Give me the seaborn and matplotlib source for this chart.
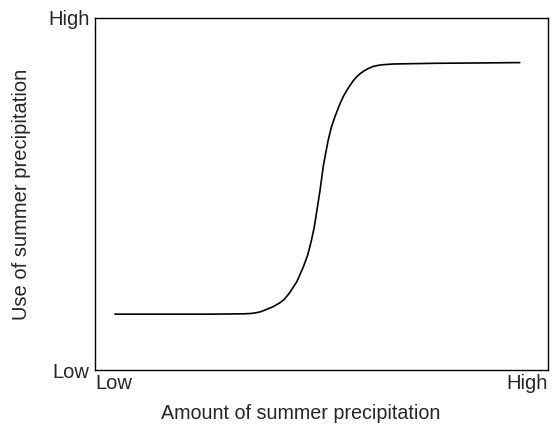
import matplotlib
matplotlib.use("Agg")
import matplotlib.pyplot as plt
import seaborn as sns
import pandas as pd

# Curve (both axes scaled 0 = Low .. 1 = High)
precip_amount = [0.044, 0.15, 0.25, 0.330, 0.345, 0.356, 0.366, 0.378, 0.393,
                 0.408, 0.418, 0.430, 0.446, 0.460, 0.470, 0.478, 0.484,
                 0.489, 0.497, 0.504, 0.510, 0.515, 0.522, 0.530, 0.539,
                 0.548, 0.556, 0.563, 0.570, 0.578, 0.587, 0.596, 0.605,
                 0.614, 0.625, 0.636, 0.658, 0.75, 0.85, 0.938]
precip_use = [0.159, 0.159, 0.159, 0.160, 0.161, 0.163, 0.166, 0.172, 0.180,
              0.191, 0.201, 0.220, 0.252, 0.293, 0.328, 0.369, 0.405,
              0.445, 0.511, 0.578, 0.620, 0.653, 0.690, 0.720, 0.750,
              0.776, 0.794, 0.808, 0.821, 0.833, 0.843, 0.851, 0.857,
              0.862, 0.865, 0.867, 0.869, 0.871, 0.872, 0.873]
x_tick_labels = ["Low", "High"]
y_tick_labels = ["Low", "High"]

df = pd.DataFrame({"amount": precip_amount, "use": precip_use})

sns.set_style("white")
plt.rcParams["font.family"] = ["Liberation Sans", "DejaVu Sans"]

fig = plt.figure(figsize=(5.59, 4.25), dpi=100)
ax = fig.add_axes([0.170, 0.129, 0.810, 0.829])

sns.lineplot(data=df, x="amount", y="use", ax=ax, color="black",
             linewidth=1.2, sort=False)

ax.set_xlim(0, 1)
ax.set_ylim(0, 1)

ax.set_xticks([0, 1])
ax.set_xticklabels(x_tick_labels, fontsize=14.5)
ax.get_xticklabels()[0].set_horizontalalignment("left")
ax.get_xticklabels()[1].set_horizontalalignment("right")
ax.set_yticks([0, 1])
ax.set_yticklabels(y_tick_labels, fontsize=14.5)
ax.tick_params(axis="y", length=0, pad=4)
ax.tick_params(axis="x", length=0, pad=3)

for sp in ax.spines.values():
    sp.set_color("black")
    sp.set_linewidth(1.0)

# the x label sits a little left of the axes centre in the original
ax.set_xlabel("Amount of summer precipitation", fontsize=14.2, labelpad=4)
ax.xaxis.set_label_coords(0.455, -0.095)
ax.set_ylabel("Use of summer precipitation", fontsize=14.5, labelpad=12)

fig.savefig("out.png", dpi=100, facecolor="white")
